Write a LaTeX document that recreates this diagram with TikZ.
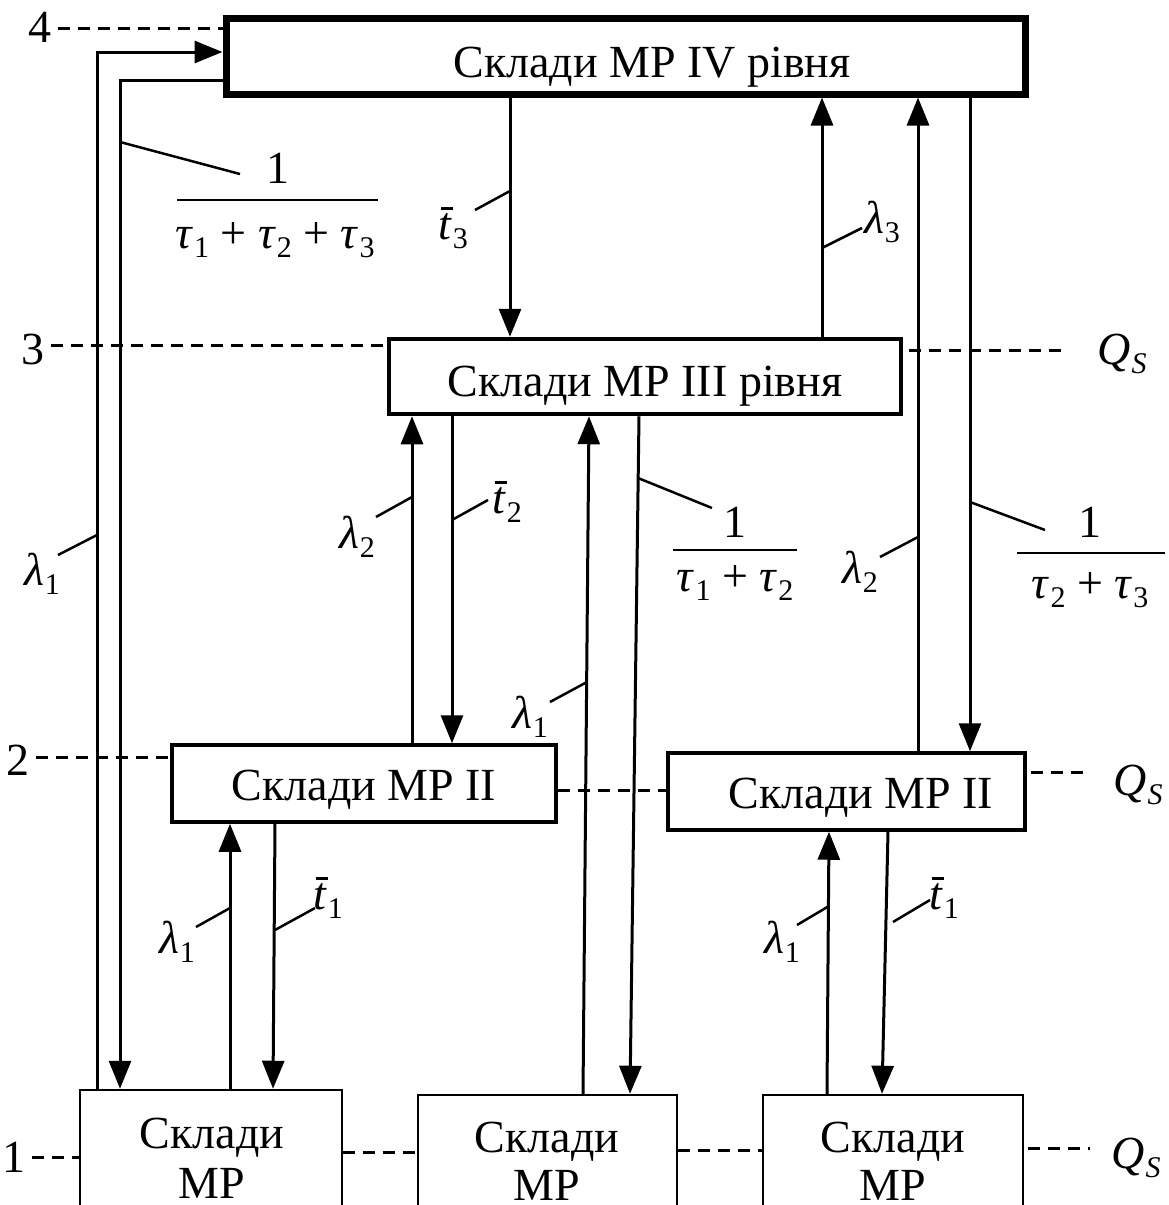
\documentclass[tikz,border=0pt]{standalone}
\usepackage{fontspec}
\setmainfont{Liberation Serif}
\usetikzlibrary{arrows.meta,calc}
\newcommand\symb[2]{\textit{#1}\kern1pt\raisebox{-9pt}{\fontsize{30}{30}\selectfont #2}}
\newcommand\symi[2]{\textit{#1}\kern1pt\raisebox{-9pt}{\fontsize{30}{30}\selectfont\itshape #2}}
\newcommand\tbar[1]{\rlap{\kern3pt\raisebox{30pt}{\rule{12pt}{2.4pt}}}\textit{t}\kern1pt\raisebox{-9pt}{\fontsize{30}{30}\selectfont #1}}
\begin{document}
\begin{tikzpicture}[x=1pt,y=-1pt,
  every node/.style={font=\fontsize{46}{55}\selectfont, inner sep=0pt},
  box/.style={draw, rectangle, inner sep=0pt},
  arr/.style={line width=3pt, -{Triangle[length=28pt,width=22pt]}},
  lead/.style={line width=2.5pt},
  lvl/.style={line width=3pt, dash pattern=on 12pt off 8pt},
  bar/.style={line width=2.5pt},
  txt/.style={anchor=base},
]
\useasboundingbox (0,0) rectangle (1168,1205);
\fill[white] (0,0) rectangle (1168,1205);

% ---------- boxes ----------
\node[box, line width=7pt, minimum width=799pt, minimum height=76pt] (b4) at (625.5,56) {};
\node[txt] (t4) at (652,77) {Склади МР IV рівня};
\node[box, line width=4.5pt, minimum width=512pt, minimum height=75pt] (b3) at (645,376.5) {};
\node[txt] (t3) at (645,396) {Склади МР III рівня};
\node[box, line width=3.5pt, minimum width=384pt, minimum height=77pt] (b2l) at (364,783.5) {};
\node[txt] (t2l) at (364,800) {Склади МР II};
\node[box, line width=3.5pt, minimum width=357pt, minimum height=77pt] (b2r) at (846.5,791.5) {};
\node[txt] (t2r) at (861,808) {Склади МР II};
\node[box, line width=2.5pt, minimum width=262pt, minimum height=160pt] (b1l) at (211,1170) {};
\node[txt] (t1la) at (212,1148) {Склади};
\node[txt] (t1lb) at (212,1198) {МР};
\node[box, line width=2.5pt, minimum width=259pt, minimum height=160pt] (b1m) at (547.5,1175) {};
\node[txt] (t1ma) at (547,1152) {Склади};
\node[txt] (t1mb) at (547,1200) {МР};
\node[box, line width=2.5pt, minimum width=260pt, minimum height=160pt] (b1r) at (893,1175) {};
\node[txt] (t1ra) at (893,1152) {Склади};
\node[txt] (t1rb) at (893,1200) {МР};

% ---------- level lines ----------
\node[txt] (n4) at (40,42) {4};
\draw[lvl] (n4.east |- 0,28) ++(6,0) -- (b4.west |- 0,28);
\node[txt] (n3) at (33,364) {3};
\draw[lvl] (n3.east |- 0,345) ++(6,0) -- (b3.west |- 0,345);
\node[txt] (q3) at (1122,364) {\symi{Q}{S}};
\draw[lvl] (b3.east |- 0,350) ++(6,0) -- (1068,350);
\node[txt] (n2) at (18,775) {2};
\draw[lvl] (n2.east |- 0,757) ++(6,0) -- (b2l.west |- 0,757);
\draw[lvl] (b2l.east |- 0,790) -- (b2r.west |- 0,790);
\draw[lvl] (b2r.east |- 0,772) ++(4,0) -- (1085,772);
\node[txt] (q2) at (1138,795) {\symi{Q}{S}};
\node[txt] (n1) at (14,1172) {1};
\draw[lvl] (n1.east |- 0,1157) ++(6,0) -- (b1l.west |- 0,1157);
\draw[lvl] (b1l.east |- 0,1152) -- (b1m.west |- 0,1152);
\draw[lvl] (b1m.east |- 0,1150) -- (b1r.west |- 0,1150);
\draw[lvl] (b1r.east |- 0,1148) ++(4,0) -- (1090,1148);
\node[txt] (q1) at (1136,1168) {\symi{Q}{S}};

% ---------- connectors ----------
\draw[arr] (b1l.north -| 97,0) |- (b4.west |- 0,52);
\draw[arr] (b4.west |- 0,80) -| (b1l.north -| 120,0);
\draw[arr] (b4.south -| 510,0) -- (b3.north -| 510,0);
\draw[arr] (b3.north -| 822,0) -- (b4.south -| 822,0);
\draw[arr] (b2r.north -| 918,0) -- (b4.south -| 918,0);
\draw[arr] (b4.south -| 970,0) -- (b2r.north -| 970,0);
\draw[arr] (b2l.north -| 412,0) -- (b3.south -| 412,0);
\draw[arr] (b3.south -| 452,0) -- (b2l.north -| 452,0);
\draw[arr] (b1m.north -| 583,0) -- (b3.south -| 589,0);
\draw[arr] (b3.south -| 639,0) -- (b1m.north -| 630,0);
\draw[arr] (b1l.north -| 230,0) -- (b2l.south -| 230,0);
\draw[arr] (b2l.south -| 275,0) -- (b1l.north -| 273,0);
\draw[arr] (b1r.north -| 827,0) -- (b2r.south -| 829,0);
\draw[arr] (b2r.south -| 888,0) -- (b1r.north -| 882,0);

% ---------- labels ----------
% 1/(tau1+tau2+tau3)
\draw[lead] (120,142) -- (240,174);
\node (f1n) at (278,168) {1};
\draw[bar] (177,200) -- (378,200);
\node (f1d) at (275,240) {\symb{τ}{1} + \symb{τ}{2} + \symb{τ}{3}};
% 1/(tau1+tau2)
\draw[lead] (638,478) -- (712,508);
\node (f2n) at (735,522) {1};
\draw[bar] (673,550) -- (797,550);
\node (f2d) at (735,583) {\symb{τ}{1} + \symb{τ}{2}};
% 1/(tau2+tau3)
\draw[lead] (970,502) -- (1045,530);
\node (f3n) at (1090,522) {1};
\draw[bar] (1017,553) -- (1165,553);
\node (f3d) at (1090,590) {\symb{τ}{2} + \symb{τ}{3}};

\draw[lead] (510,191) -- (475,210);
\node (lt3) at (453,228) {\tbar{3}};
\draw[lead] (822,248) -- (862,228);
\node (ll3) at (882,222) {\symb{λ}{3}};
\draw[lead] (412,497) -- (376,517);
\node (ll2a) at (357,537) {\symb{λ}{2}};
\draw[lead] (452,520) -- (488,500);
\node (lt2) at (507,502) {\tbar{2}};
\draw[lead] (587,682) -- (550,702);
\node (ll1m) at (530,717) {\symb{λ}{1}};
\draw[lead] (918,537) -- (880,557);
\node (ll2b) at (860,572) {\symb{λ}{2}};
\draw[lead] (97,535) -- (58,555);
\node (ll1o) at (42,574) {\symb{λ}{1}};
\draw[lead] (230,908) -- (196,927);
\node (ll1a) at (177,942) {\symb{λ}{1}};
\draw[lead] (275,930) -- (315,908);
\node (lt1a) at (328,898) {\tbar{1}};
\draw[lead] (829,906) -- (797,925);
\node (ll1b) at (782,942) {\symb{λ}{1}};
\draw[lead] (893,922) -- (930,900);
\node (lt1b) at (944,898) {\tbar{1}};
\end{tikzpicture}
\end{document}
